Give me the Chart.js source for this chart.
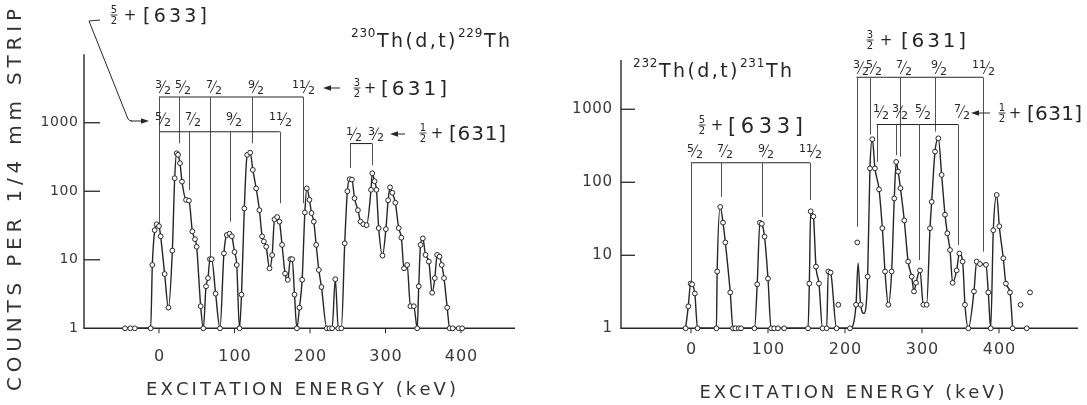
<!DOCTYPE html>
<html>
<head>
<meta charset="utf-8">
<script src="https://cdn.jsdelivr.net/npm/chart.js@4.4.1/dist/chart.umd.min.js"></script>
<style>
html, body { margin: 0; padding: 0; background: #fff; }
#wrap { position: relative; width: 1087px; height: 405px; overflow: hidden; }
#leftChart { position: absolute; left: 0; top: 0; }
#rightChart { position: absolute; left: 540px; top: 0; }
</style>
</head>
<body>
<div id="wrap">
  <canvas id="leftChart" width="540" height="405"></canvas>
  <canvas id="rightChart" width="547" height="405"></canvas>
</div>
<script>
// ---- 230Th(d,t)229Th spectrum ----
const leftEnergy = [
  -45, -38, -32, -11, -8.8, -5.7, -3.1, 0, 2.2, 7.5,
  12.5, 17.7, 20.8, 23.4, 25.2, 27.8, 30.5, 35.8, 39.7, 44.2,
  47.7, 49.9, 55.2, 58.7, 62.3, 64.9, 67.5, 69.8, 75, 80.8,
  86, 89.8, 93.4, 96.5, 100, 103, 106.6, 109.3, 113, 116.8,
  120.8, 124.3, 128.7, 133, 136.6, 138.9, 142, 146.4, 149.9, 153,
  156.5, 159.6, 163, 167, 170.6, 174, 176.4, 179.5, 182.6, 186,
  189.6, 193.2, 195.8, 199.3, 202, 205, 208.2, 211.7, 215.2, 222.3,
  225.8, 229.3, 233.5, 237.5, 241.5, 246, 249.5, 252.5, 255.5, 259,
  263.5, 267, 270.6, 275, 280.8, 282.5, 285.5, 288, 291, 296,
  300.5, 303.5, 306, 309, 313, 317.5, 321, 324.5, 328.7, 333,
  337.5, 342, 344, 346.4, 349.4, 353, 357.4, 361.8, 365.3, 368.4,
  371.5, 374.5, 377.5, 381.7, 385, 389, 397, 401.5
];
const leftCounts = [
  1, 1, 1, 1, 8.4, 27, 33, 31, 22, 6.2,
  2.0, 13.6, 155, 358, 340, 257, 138, 75, 73, 26,
  20, 15.5, 2.1, 1, 4.1, 5.4, 10.2, 10.2, 3.2, 1,
  12.4, 23, 24, 22, 13, 8.4, 1, 3.1, 56, 340,
  366, 205, 110, 53, 22, 18.5, 15.5, 7.5, 11.7, 39,
  42, 36, 16.5, 6.3, 5.1, 10.2, 10.2, 3.1, 1, 2.0,
  5.1, 49, 110, 75, 48, 36, 16.5, 7.1, 4.0, 1,
  1, 1, 5.2, 1, 1, 17.4, 100, 150, 148, 79,
  53, 36, 33, 32, 105, 183, 140, 105, 29, 11.5,
  28, 74, 114, 95, 68, 29, 21, 7.5, 8.4, 2.1,
  2.1, 1, 4.1, 16.5, 20.5, 11.8, 9.4, 3.3, 5.4, 11.8,
  11.1, 8.4, 5.4, 2.0, 1, 1, 1, 1
];

// ---- 232Th(d,t)231Th spectrum ----
const rightEnergy = [
  -7, -3.5, -0.5, 1.5, 5, 8.5, 33, 34, 38, 41.6,
  44.6, 51, 54.5, 57.6, 62, 65, 82.5, 86, 89.5, 92,
  95.5, 100, 104, 108, 113, 121, 152, 153.7, 155.4, 158.9,
  162.3, 166.2, 170.8, 176.2, 178.3, 181.3, 189, 206.5, 214.3, 217,
  220.3, 224.7, 229.4, 232.4, 235.5, 238.9, 244.2, 248.5, 252, 256.3,
  260.6, 264, 266.5, 269, 272, 277, 282, 286.6, 289.6, 292.2,
  297.4, 301.7, 306, 310.4, 312.6, 316.9, 321.2, 325.5, 329.9, 332.9,
  336.4, 339.8, 345, 348.5, 352.8, 355.8, 360.2, 367.5, 371, 375.3,
  383.1, 386.1, 389.2, 392.6, 397, 400.4, 405.6, 409, 414.3, 417.7
];
const rightCounts = [
  1, 2.0, 4.1, 4.0, 3.0, 1, 1, 6, 46, 28,
  15, 3.1, 1, 1, 1, 1, 1, 4, 28, 27,
  18, 4.8, 1, 1, 1, 1, 1, 4.1, 40, 34,
  7, 4.1, 1, 1, 6, 5.8, 1, 1, 2.1, 7.8,
  2.1, 1.6, 5.1, 155, 389, 155, 80, 23.5, 6, 2.1,
  6, 60, 190, 140, 83, 30, 8.2, 5.1, 3.2, 4.2,
  6.2, 2.1, 2.1, 23.5, 54, 263, 400, 126, 36, 20,
  11.8, 4.2, 6.2, 10.6, 8.2, 2.1, 1, 3.2, 8.2, 7.6,
  7.4, 3.1, 1, 22, 67, 25, 9.1, 4.1, 3.1, 1
];
// points of the drawn curve that carry no circle
const rightCurveOnly = [217, 224.7];
// circles not joined by the curve
const rightLooseEnergy = [191.3, 216, 428, 436, 440.3];
const rightLooseCounts = [2.1, 15, 2.1, 1, 3.1];

const yTickValues = [1, 10, 100, 1000];
const xTickValues = [0, 100, 200, 300, 400];

// ---- level schemes (spin labels and energies in keV) ----
const leftUpperSpins = ['3/2', '5/2', '7/2', '9/2', '11/2'];
const leftUpperKeV = [0, 26, 68, 123, 191];
const leftLowerSpins = ['5/2', '7/2', '9/2', '11/2'];
const leftLowerKeV = [0, 40, 94, 160];
const leftThirdSpins = ['1/2', '3/2'];
const leftThirdKeV = [253, 282];

const rightUpperSpins = ['3/2', '5/2', '7/2', '9/2', '11/2'];
const rightUpperKeV = [215, 232, 272, 317, 379];
const rightLowerSpins = ['1/2', '3/2', '5/2', '7/2'];
const rightLowerKeV = [241, 266, 296, 347];
const right633Spins = ['5/2', '7/2', '9/2', '11/2'];
const right633KeV = [0, 39, 92, 154.5];

const FONT = '"DejaVu Sans", "Liberation Sans", sans-serif';
const INK = '#262626';
const GREY = '#505050';

function spaced(ctx, text, x, y, size, spacing, align) {
  ctx.font = size + 'px ' + FONT;
  const chars = [...text];
  const w = chars.map(c => ctx.measureText(c).width);
  const total = w.reduce((a, b) => a + b, 0) + spacing * (chars.length - 1);
  let cx = align === 'center' ? x - total / 2 : (align === 'right' ? x - total : x);
  ctx.textAlign = 'left';
  chars.forEach((c, i) => { ctx.fillText(c, cx, y); cx += w[i] + spacing; });
  return total;
}
function fitted(ctx, text, x, y, size, width) {
  ctx.font = size + 'px ' + FONT;
  const chars = [...text];
  const w = chars.reduce((a, c) => a + ctx.measureText(c).width, 0);
  spaced(ctx, text, x, y, size, (width - w) / (chars.length - 1), 'center');
}
function seg(ctx, x1, y1, x2, y2) {
  ctx.beginPath(); ctx.moveTo(x1, y1); ctx.lineTo(x2, y2); ctx.stroke();
}
function arrowLeft(ctx, xTail, xHead, y) {
  seg(ctx, xTail, y, xHead + 3, y);
  ctx.beginPath(); ctx.moveTo(xHead, y); ctx.lineTo(xHead + 8, y - 2.8); ctx.lineTo(xHead + 8, y + 2.8); ctx.closePath(); ctx.fill();
}
function arrowRight(ctx, xTail, xHead, y) {
  seg(ctx, xTail, y, xHead - 3, y);
  ctx.beginPath(); ctx.moveTo(xHead, y); ctx.lineTo(xHead - 8, y - 2.8); ctx.lineTo(xHead - 8, y + 2.8); ctx.closePath(); ctx.fill();
}
// slanted spin label like 5/2
function fracSlant(ctx, label, cx, cy, s) {
  const [n, d] = label.split('/');
  ctx.font = s + 'px ' + FONT;
  ctx.textBaseline = 'alphabetic';
  ctx.textAlign = 'right'; ctx.fillText(n, cx - 0.5, cy + 0.5);
  ctx.textAlign = 'left'; ctx.fillText(d, cx + 1.5, cy + 0.6 * s);
  ctx.lineWidth = 0.9;
  seg(ctx, cx - 0.3 * s, cy + 0.55 * s, cx + 0.3 * s, cy - 0.6 * s);
}
// stacked fraction + [nnn]
function bandName(ctx, num, den, cx, cy, plusX, x0, x1, size) {
  ctx.textBaseline = 'alphabetic';
  ctx.font = '10px ' + FONT; ctx.textAlign = 'center';
  ctx.fillText(num, cx, cy - 2);
  ctx.fillText(den, cx, cy + 9);
  ctx.lineWidth = 0.9; seg(ctx, cx - 3.5, cy, cx + 3.5, cy);
  ctx.font = '15px ' + FONT; ctx.fillText('+', plusX, cy + 5);
  const txt = num === '5' ? '[633]' : '[631]';
  ctx.font = size + 'px ' + FONT;
  const w = [...txt].reduce((a, c) => a + ctx.measureText(c).width, 0);
  spaced(ctx, txt, x0, cy + size * 0.36, size, (x1 - x0 - w) / 4, 'left');
}
function reaction(ctx, a1, a2, x, y) {
  const parts = [[a1, true], ['Th(d,t)', false], [a2, true], ['Th', false]];
  parts.forEach(([t, sup]) => {
    const w = sup ? spaced(ctx, t, x, y - 10, 12, 0.8, 'left') : spaced(ctx, t, x, y, 19, 2.4, 'left');
    x += w + (sup ? 1.5 : 2.5);
  });
}

function drawBand(ctx, xs, ys, spins, kev, band) {
  const yl = ys.getPixelForValue(band.line);
  const yLab = ys.getPixelForValue(band.label);
  ctx.strokeStyle = INK; ctx.fillStyle = INK; ctx.lineWidth = 1.1;
  seg(ctx, xs.getPixelForValue(kev[0]), yl, xs.getPixelForValue(kev[kev.length - 1]), yl);
  kev.forEach((e, i) => {
    const x = Math.round(xs.getPixelForValue(e)) + 0.5;
    ctx.strokeStyle = GREY; ctx.lineWidth = 1;
    seg(ctx, x, yl, x, ys.getPixelForValue(band.ends[i]));
    ctx.strokeStyle = INK;
    fracSlant(ctx, spins[i], x + 3, yLab, 11);
  });
}

function drawAxes(chart, cfg) {
  const ctx = chart.ctx, a = chart.chartArea;
  const xs = chart.scales.x, ys = chart.scales.y;
  ctx.save();
  ctx.strokeStyle = INK; ctx.fillStyle = '#3a3a3a'; ctx.lineWidth = 1.4;
  seg(ctx, a.left, a.top, a.left, a.bottom + 0.7);
  seg(ctx, a.left, a.bottom, a.right, a.bottom);
  ctx.textBaseline = 'middle';
  yTickValues.forEach(v => {
    const y = ys.getPixelForValue(v);
    if (v > 1) { ctx.lineWidth = 1.3; seg(ctx, a.left, y, a.left + cfg.tickLen, y); }
    spaced(ctx, String(v), a.left - cfg.yLabelGap, y, cfg.yLabelSize, 0.6, 'right');
  });
  xTickValues.forEach(v => {
    const x = xs.getPixelForValue(v);
    ctx.lineWidth = 1; seg(ctx, x, a.bottom, x, a.bottom + 5);
    spaced(ctx, String(v), x, cfg.xLabelY, 16, 1, 'center');
  });
  ctx.textBaseline = 'alphabetic';
  ctx.fillStyle = '#333';
  fitted(ctx, 'EXCITATION ENERGY (keV)', cfg.xTitle[0], cfg.xTitle[1], 18, cfg.xTitle[2]);
  if (cfg.yTitle) {
    ctx.save();
    ctx.translate(cfg.yTitle[0], cfg.yTitle[1]);
    ctx.rotate(-Math.PI / 2);
    ctx.textBaseline = 'middle';
    fitted(ctx, 'COUNTS PER 1/4 mm STRIP', 0, 0, 20, cfg.yTitle[2]);
    ctx.restore();
  }
  ctx.restore();
}

const leftDecor = {
  id: 'leftDecor',
  beforeDatasetsDraw(chart) {
    const ctx = chart.ctx, xs = chart.scales.x, ys = chart.scales.y;
    drawAxes(chart, { tickLen: 16, yLabelGap: 6, yLabelSize: 14, xLabelY: 357, xTitle: [301, 395, 310], yTitle: [16, 200, 382] });
    ctx.save();
    drawBand(ctx, xs, ys, leftUpperSpins, leftUpperKeV, { line: 2372, label: 3320, ends: [739, 500, 11.1, 500, 67] });
    drawBand(ctx, xs, ys, leftLowerSpins, leftLowerKeV, { line: 739, label: 1132, ends: [31, 104, 36, 67] });
    drawBand(ctx, xs, ys, leftThirdSpins, leftThirdKeV, { line: 497, label: 684, ends: [218, 240] });
    ctx.strokeStyle = INK; ctx.fillStyle = INK; ctx.lineWidth = 1;
    // pointer from the 5/2+[633] name down to its band
    ctx.beginPath(); ctx.moveTo(100, 20); ctx.lineTo(89, 21); ctx.lineTo(128, 119); ctx.quadraticCurveTo(129.5, 121, 132, 121); ctx.stroke();
    arrowRight(ctx, 131, 149, 121);
    arrowLeft(ctx, 340, 323, 88);
    arrowLeft(ctx, 405, 390, 134);
    bandName(ctx, '5', '2', 114, 15, 130, 143, 207, 19);
    bandName(ctx, '3', '2', 357, 88, 370, 381, 447, 20);
    bandName(ctx, '1', '2', 423, 133, 437, 449, 506, 20);
    reaction(ctx, '230', '229', 351, 47);
    ctx.restore();
  }
};
const rightDecor = {
  id: 'rightDecor',
  beforeDatasetsDraw(chart) {
    const ctx = chart.ctx, xs = chart.scales.x, ys = chart.scales.y;
    drawAxes(chart, { tickLen: 14, yLabelGap: 9, yLabelSize: 15, xLabelY: 350, xTitle: [312, 398, 305] });
    ctx.save();
    drawBand(ctx, xs, ys, right633Spins, right633KeV, { line: 185, label: 268, ends: [4.3, 63, 33.5, 57] });
    drawBand(ctx, xs, ys, rightUpperSpins, rightUpperKeV, { line: 2743, label: 3680, ends: [24.6, 450, 224, 495, 11.2] });
    drawBand(ctx, xs, ys, rightLowerSpins, rightLowerKeV, { line: 619, label: 918, ends: [191, 236, 8.6, 13.8] });
    ctx.strokeStyle = INK; ctx.fillStyle = INK; ctx.lineWidth = 1;
    arrowLeft(ctx, 450, 431, 113);
    bandName(ctx, '5', '2', 162, 125, 177, 188, 263, 21);
    bandName(ctx, '3', '2', 330, 40, 346, 361, 426, 20);
    bandName(ctx, '1', '2', 462, 113, 475, 487, 542, 20);
    reaction(ctx, '232', '231', 93, 77);
    ctx.restore();
  }
};

function pts(xs, ys) { return xs.map((x, i) => ({ x: x, y: ys[i] })); }

const lineStyle = {
  borderColor: INK,
  borderWidth: 1.4,
  cubicInterpolationMode: 'monotone',
  pointRadius: 2.4,
  pointBorderWidth: 1,
  pointBackgroundColor: '#fff',
  pointBorderColor: INK,
  clip: false
};

function makeChart(id, datasets, xRange, yMax, pad, decor) {
  return new Chart(document.getElementById(id), {
    type: 'line',
    data: { datasets: datasets },
    options: {
      responsive: false,
      animation: false,
      events: [],
      layout: { padding: pad },
      plugins: { legend: { display: false }, tooltip: { enabled: false } },
      scales: {
        x: { type: 'linear', min: xRange[0], max: xRange[1], display: false },
        y: { type: 'logarithmic', min: 1, max: yMax, display: false }
      }
    },
    plugins: [decor]
  });
}

makeChart('leftChart', [
  Object.assign({ data: pts(leftEnergy, leftCounts) }, lineStyle)
], [-99.3, 471.5], 10000, { left: 84, right: 25, top: 54.2, bottom: 76.7 }, leftDecor);

makeChart('rightChart', [
  Object.assign({}, lineStyle, {
    data: pts(rightEnergy, rightCounts),
    pointRadius: ctx => rightCurveOnly.includes(rightEnergy[ctx.dataIndex]) ? 0 : 2.4
  }),
  Object.assign({}, lineStyle, { data: pts(rightLooseEnergy, rightLooseCounts), showLine: false })
], [-90.9, 502.6], 4730, { left: 81, right: 9, top: 60, bottom: 76.7 }, rightDecor);
</script>
</body>
</html>
